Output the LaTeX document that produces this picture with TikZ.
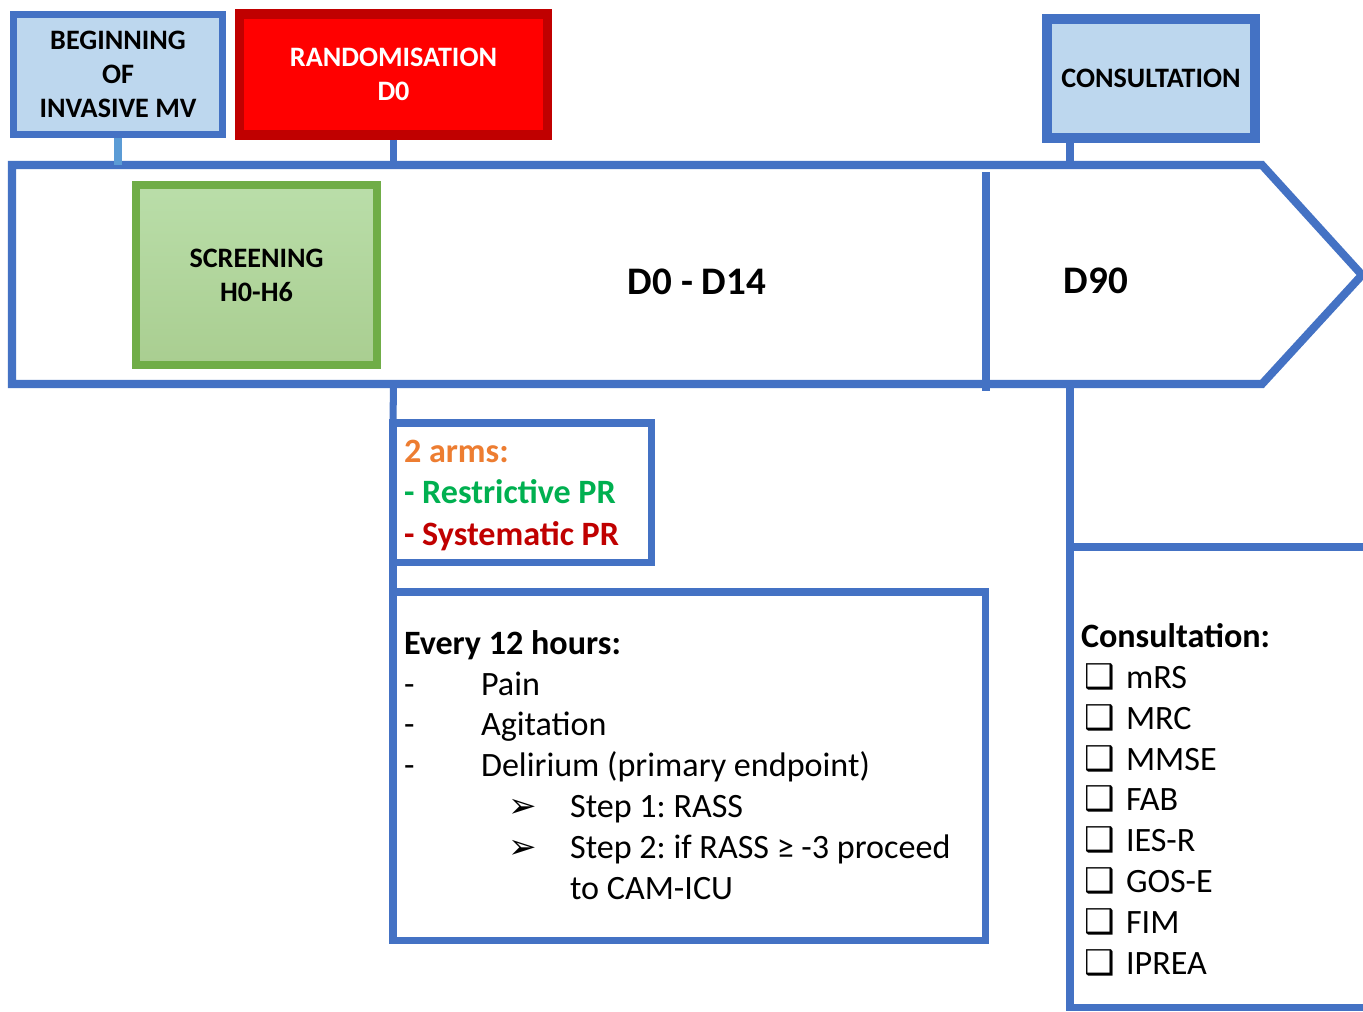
\documentclass[tikz,border=0pt]{standalone}
\usepackage{fontspec}
\setmainfont{Carlito}
\newfontfamily\symfont{DejaVu Sans}
\frenchspacing

\definecolor{mvblue}{HTML}{4472C4}
\definecolor{paleblue}{HTML}{BDD7EE}
\definecolor{linkblue}{HTML}{5B9BD5}
\definecolor{darkred}{HTML}{C00000}
\definecolor{scrgreen}{HTML}{70AD47}
\definecolor{armorange}{HTML}{ED7D31}
\definecolor{armgreen}{HTML}{00B050}

\begin{document}
\begin{tikzpicture}[
		x=0.01cm, y=-0.01cm,
		every node/.style={inner sep=0pt, outer sep=0pt},
		box/.style={rectangle, draw=mvblue, line width=2pt},
		stage/.style={box, fill=paleblue, align=center, font=\bfseries\fontsize{8}{9.7}\selectfont},
		link/.style={draw=mvblue, line width=2pt},
		listtext/.style={anchor=base west, align=left, font=\fontsize{9.7}{11.6}\selectfont}
	]
  \useasboundingbox (0,0) rectangle (1363,1011);
  \clip (0,0) rectangle (1363,1011);
  \fill [white] (0,0) rectangle (1363,1011);
  \node (mv) [stage, minimum width=2.08cm, minimum height=1.19cm] at (118,74.5) {BEGINNING\\OF\\INVASIVE MV};
  \node (rando) [stage, draw=darkred, fill=red, text=white, line width=2.6pt, minimum width=3.07cm, minimum height=1.21cm] at (393.5,74.5) {RANDOMISATION\\D0};
  \node (consult) [stage, line width=2.6pt, minimum width=2.08cm, minimum height=1.19cm] at (1151,78.5) {CONSULTATION};
  \coordinate (arrow_nw) at (12,165);
  \coordinate (arrow_ne) at (1262,165);
  \coordinate (arrow_tip) at (1362,275);
  \coordinate (arrow_se) at (1262,384);
  \coordinate (arrow_sw) at (12,384);
  \coordinate (split_n) at (986,172);
  \coordinate (split_s) at (986,391);
  \coordinate (visit) at (1070,384);
  \draw [link, line width=2.3pt] (arrow_nw) -- (arrow_ne) -- (arrow_tip) -- (arrow_se) -- (arrow_sw) -- cycle;
  \draw [link, line width=2.3pt] (split_n) -- (split_s);
  \node (screen) [stage, draw=scrgreen, top color=green!10!scrgreen!45, bottom color=scrgreen!60, line width=2.3pt, minimum width=2.41cm, minimum height=1.80cm] at (256.5,275) {SCREENING\\H0-H6};
  \node (d0_d14) [font=\bfseries\fontsize{11.1}{13}\selectfont] at (697,282) {D0 - D14};
  \node (d90) [font=\bfseries\fontsize{11.1}{13}\selectfont] at (1096,281) {D90};
  \draw [link, draw=linkblue, shorten <=1pt] (mv.south) -- (mv.south |- arrow_nw);
  \draw [link, shorten <=1.3pt] (rando.south) -- (rando.south |- arrow_nw);
  \draw [link, shorten <=1.3pt] (consult.south -| visit) -- (visit |- arrow_nw);
  \node (arms) [box, anchor=north west, minimum width=2.58cm, minimum height=1.39cm] at (393,423) {};
  \node (every12) [box, anchor=north west, minimum width=5.92cm, minimum height=3.48cm] at (393,592) {};
  \node (visit_box) [box, anchor=north west, minimum width=3.3cm, minimum height=4.6cm] at (1070,547) {};
  \draw [link] (rando.south |- arrow_sw) -- (arms.north west);
  \draw [link] (arms.south west) -- (every12.north west);
  \draw [link] (visit) -- (visit_box.north west);
  \node (arms_text) [listtext, font=\bfseries\fontsize{9.7}{11.7}\selectfont] at (404,545) {\textcolor{armorange}{2 arms:}\\\textcolor{armgreen}{- Restrictive PR}\\\textcolor{darkred}{- Systematic PR}};
  \node (every12_text) [listtext] at (404,899) {\textbf{Every 12 hours:}\\
    \makebox[0.77cm][l]{-}Pain\\
    \makebox[0.77cm][l]{-}Agitation\\
    \makebox[0.77cm][l]{-}Delirium (primary endpoint)\\
    \hspace*{1.04cm}\makebox[0.62cm][l]{\symfont ➢}Step 1: RASS\\
    \hspace*{1.04cm}\makebox[0.62cm][l]{\symfont ➢}Step 2: if RASS ≥ -3 proceed\\
    \hspace*{1.66cm}to CAM-ICU};
  \node (visit_text) [listtext] at (1081,974) {\textbf{Consultation:}\\
    \hspace*{0.03cm}\makebox[0.42cm][l]{\symfont ❑}mRS\\
    \hspace*{0.03cm}\makebox[0.42cm][l]{\symfont ❑}MRC\\
    \hspace*{0.03cm}\makebox[0.42cm][l]{\symfont ❑}MMSE\\
    \hspace*{0.03cm}\makebox[0.42cm][l]{\symfont ❑}FAB\\
    \hspace*{0.03cm}\makebox[0.42cm][l]{\symfont ❑}IES-R\\
    \hspace*{0.03cm}\makebox[0.42cm][l]{\symfont ❑}GOS-E\\
    \hspace*{0.03cm}\makebox[0.42cm][l]{\symfont ❑}FIM\\
    \hspace*{0.03cm}\makebox[0.42cm][l]{\symfont ❑}IPREA};
\end{tikzpicture}
\end{document}
